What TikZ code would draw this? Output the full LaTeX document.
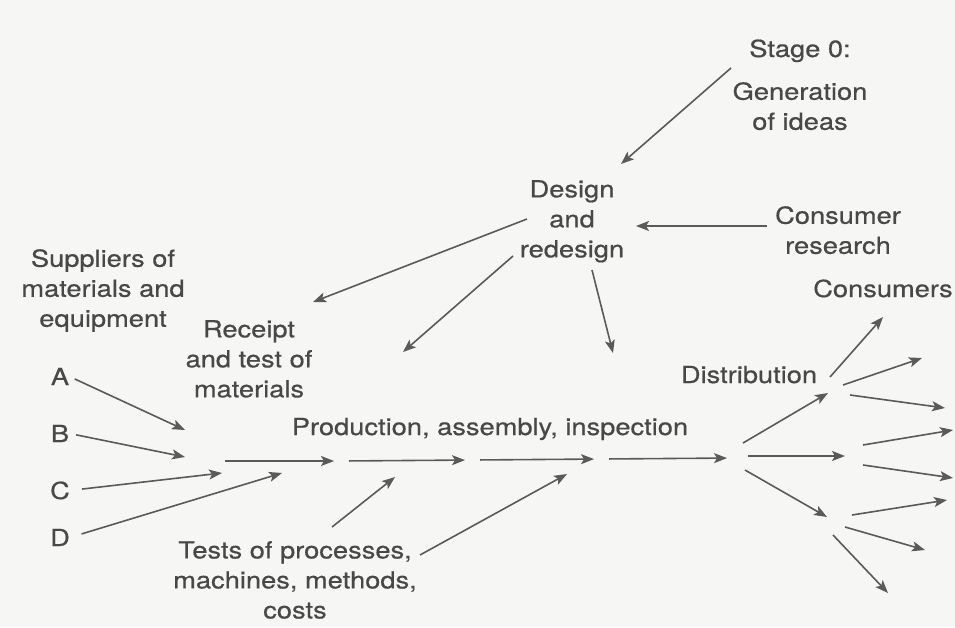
\documentclass[tikz,border=0pt]{standalone}
\usepackage{fontspec}
\setmainfont{TeX Gyre Heros}[FakeStretch=1.16,FakeBold=0.5]
\usetikzlibrary{arrows.meta}

\definecolor{texte}{RGB}{72,72,72}
\definecolor{trait}{RGB}{90,90,90}
\definecolor{fond}{RGB}{246,246,245}

\tikzset{
  etiquette/.style={inner sep=0pt, align=center, text=texte, font=\fontsize{23.5}{30}\selectfont},
  fleche/.style={draw=trait, line width=1.6pt, -{Stealth[length=13pt,width=10pt,inset=3pt]}},
  etape/.style={fleche, shorten <=7pt, shorten >=8pt},
}

\begin{document}
\begin{tikzpicture}[x=1pt,y=-1pt]
        % Fond
        \fill[fond] (0,0) rectangle (955,627);
        \useasboundingbox (0,0) rectangle (955,627);

        % Idees et conception
        \node[etiquette, anchor=base] (stage) at (800,57) {Stage 0:};
        \node[etiquette, anchor=north] (idees) at (800,82) {Generation\\of ideas};
        \node[etiquette, anchor=north] (design) at (572,180) {Design\\and\\redesign};
        \node[etiquette, anchor=north] (recherche) at (838,206) {Consumer\\research};

        % Fournisseurs et reception
        \node[etiquette, anchor=north] (fournisseurs) at (103,249) {Suppliers of\\materials and\\equipment};
        \node[etiquette, anchor=north] (reception) at (249,320) {Receipt\\and test of\\materials};
        \node[etiquette, anchor=base] (A) at (60,385) {A};
        \node[etiquette, anchor=base] (B) at (60,442) {B};
        \node[etiquette, anchor=base] (C) at (60,499) {C};
        \node[etiquette, anchor=base] (D) at (60,546) {D};

        % Production
        \node[etiquette, anchor=base] (production) at (490,435) {Production, assembly, inspection};
        \node[etiquette, anchor=north] (tests) at (295,541) {Tests of processes,\\machines, methods,\\costs};

        % Distribution
        \node[etiquette, anchor=base] (distribution) at (749,383) {Distribution};
        \node[etiquette, anchor=base] (consommateurs) at (883,297) {Consumers};

        % Fleches vers la conception
        \coordinate (idee) at (731,68);      \coordinate (concep1) at (621,164);
        \coordinate (enquete) at (767,226);  \coordinate (concep2) at (636,226);
        \draw[fleche] (idee) -- (concep1);
        \draw[fleche] (enquete) -- (concep2);

        % Fleches depuis la conception
        \coordinate (design1) at (527,219);  \coordinate (recep1) at (313,302);
        \coordinate (design2) at (513,256);  \coordinate (recep2) at (403,352);
        \coordinate (design3) at (592,270);  \coordinate (chaine) at (613,353);
        \draw[fleche] (design1) -- (recep1);
        \draw[fleche] (design2) -- (recep2);
        \draw[fleche] (design3) -- (chaine);

        % Entrees des fournisseurs
        \coordinate (eA) at (185,430);
        \coordinate (eB) at (185,457);
        \coordinate (eC) at (222,473);
        \coordinate (eD) at (282,473);
        \draw[fleche, shorten <=6pt] (A.east) -- (eA);
        \draw[fleche, shorten <=7pt] (B.east) -- (eB);
        \draw[fleche, shorten <=12pt] (C.east) -- (eC);
        \draw[fleche, shorten <=12pt] (D.east) -- (eD);

        % Chaine de production
        \coordinate (p0) at (218,461);
        \coordinate (p1) at (342,461);
        \coordinate (p2) at (473,460);
        \coordinate (p3) at (602,459);
        \coordinate (p4) at (735,458);
        \draw[etape] (p0) -- (p1);
        \draw[etape] (p1) -- (p2);
        \draw[etape] (p2) -- (p3);
        \draw[etape] (p3) -- (p4);

        % Tests
        \coordinate (t1) at (332,527);  \coordinate (t1b) at (395,477);
        \coordinate (t2) at (420,555);  \coordinate (t2b) at (567,474);
        \draw[fleche] (t1) -- (t1b);
        \draw[fleche] (t2) -- (t2b);

        % Distribution
        \coordinate (d1) at (743,443);  \coordinate (h1) at (828,393);
        \coordinate (d2) at (748,456);  \coordinate (h2) at (845,456);
        \coordinate (d3) at (745,470);  \coordinate (h3) at (827,517);
        \draw[fleche] (d1) -- (h1);
        \draw[fleche] (d2) -- (h2);
        \draw[fleche] (d3) -- (h3);

        % Vers les consommateurs
        \coordinate (c1) at (830,377);  \coordinate (c1b) at (883,317);
        \coordinate (c2) at (843,385);  \coordinate (c2b) at (922,358);
        \coordinate (c3) at (850,395);  \coordinate (c3b) at (945,408);
        \coordinate (c4) at (863,445);  \coordinate (c4b) at (953,430);
        \coordinate (c5) at (863,465);  \coordinate (c5b) at (953,478);
        \coordinate (c6) at (852,515);  \coordinate (c6b) at (947,500);
        \coordinate (c7) at (845,527);  \coordinate (c7b) at (925,550);
        \coordinate (c8) at (833,535);  \coordinate (c8b) at (888,593);
        \draw[fleche] (c1) -- (c1b);
        \draw[fleche] (c2) -- (c2b);
        \draw[fleche] (c3) -- (c3b);
        \draw[fleche] (c4) -- (c4b);
        \draw[fleche] (c5) -- (c5b);
        \draw[fleche] (c6) -- (c6b);
        \draw[fleche] (c7) -- (c7b);
        \draw[fleche] (c8) -- (c8b);
\end{tikzpicture}
\end{document}
